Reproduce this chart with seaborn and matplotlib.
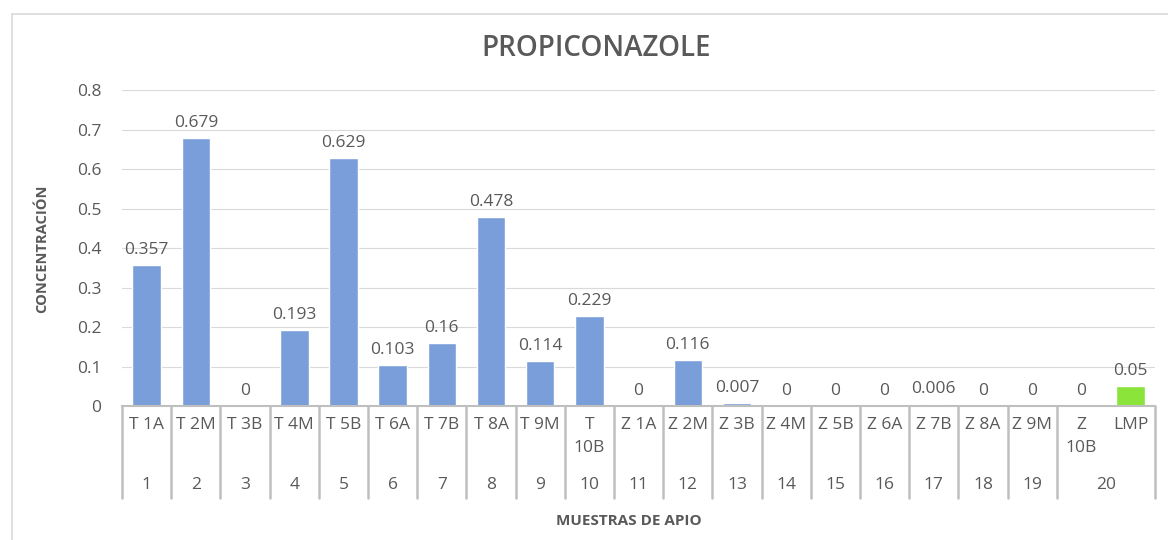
import matplotlib
matplotlib.use("Agg")
import matplotlib.pyplot as plt
import matplotlib.transforms as mtransforms
from matplotlib.lines import Line2D
import seaborn as sns
import pandas as pd

# --- data ---
muestras = ["T 1A", "T 2M", "T 3B", "T 4M", "T 5B", "T 6A", "T 7B", "T 8A", "T 9M", "T\n10B",
            "Z 1A", "Z 2M", "Z 3B", "Z 4M", "Z 5B", "Z 6A", "Z 7B", "Z 8A", "Z 9M", "Z\n10B", "LMP"]
concentracion = [0.357, 0.679, 0, 0.193, 0.629, 0.103, 0.16, 0.478, 0.114, 0.229,
                 0, 0.116, 0.007, 0, 0, 0, 0.006, 0, 0, 0, 0.05]
etiquetas = ["0.357", "0.679", "0", "0.193", "0.629", "0.103", "0.16", "0.478", "0.114", "0.229",
             "0", "0.116", "0.007", "0", "0", "0", "0.006", "0", "0", "0", "0.05"]
grupos = [str(i) for i in range(1, 21)]
# group 20 covers the last two categories (Z 10B and LMP)
grupo_span = [(i, i + 1) for i in range(19)] + [(19, 21)]

df = pd.DataFrame({"muestra": muestras, "conc": concentracion})
df["tipo"] = ["lmp" if m == "LMP" else "muestra" for m in muestras]

sns.set_style("white")
plt.rcParams["font.family"] = ["Open Sans", "DejaVu Sans"]
txt = "#595959"
grid = "#D9D9D9"
axis_c = "#BFBFBF"
fs = 12.5

fig = plt.figure(figsize=(11.68, 5.4), dpi=100)
ax = fig.add_axes([0.1045, 0.248, 0.8845, 0.585])

sns.barplot(data=df, x="muestra", y="conc", hue="tipo", palette={"muestra": "#7A9ED9", "lmp": "#8AE43A"},
            width=0.58, legend=False, dodge=False, saturation=1, ax=ax)

ax.set_ylim(0, 0.8)
ax.set_xlim(-0.5, len(muestras) - 0.5)
ax.set_yticks([i / 10 for i in range(9)])
ax.set_yticklabels(["0"] + [f"{i / 10:.1f}" for i in range(1, 9)])
ax.tick_params(axis="y", length=0, pad=15, labelsize=fs, labelcolor=txt)
ax.set_xticks([])
ax.set_xlabel("")
ax.set_ylabel("")
for s in ["top", "right", "left"]:
    ax.spines[s].set_visible(False)
ax.spines["bottom"].set_color(axis_c)
ax.spines["bottom"].set_linewidth(1.5)
ax.yaxis.grid(True, color=grid, linewidth=0.8)
ax.set_axisbelow(True)

# data labels
for i, (v, lab) in enumerate(zip(concentracion, etiquetas)):
    ax.annotate(lab, (i, v), xytext=(0, 5), textcoords="offset points",
                ha="center", va="bottom", fontsize=fs, color=txt)

# multi-level category axis
trans = mtransforms.blended_transform_factory(ax.transData, ax.transAxes)
y_bot = -0.29
for i, m in enumerate(muestras):
    ax.text(i, -0.035, m, transform=trans, ha="center", va="top", fontsize=fs,
            color=txt, linespacing=1.55)
for (a, b), g in zip(grupo_span, grupos):
    ax.text((a + b) / 2 - 0.5, -0.25, g, transform=trans, ha="center", va="center",
            fontsize=fs, color=txt)
bordes = [a for a, b in grupo_span] + [len(muestras)]
for b in bordes:
    ax.add_line(Line2D([b - 0.5, b - 0.5], [0, y_bot], transform=trans, color=axis_c,
                       linewidth=1.8, clip_on=False))

fig.text(0.51, 0.911, "PROPICONAZOLE", ha="center", va="center", fontsize=20, color=txt,
         fontweight="semibold")
fig.text(0.538, 0.036, "MUESTRAS DE APIO", ha="center", va="center", fontsize=11,
         color=txt, fontweight="bold")
fig.text(0.036, 0.54, "CONCENTRACIÓN", ha="center", va="center", fontsize=10.5,
         color=txt, fontweight="bold", rotation=90)

# outer chart border
fig.add_artist(Line2D([12 / 1168, 12 / 1168], [0, 1 - 14 / 540], transform=fig.transFigure,
                      color="#D9D9D9", linewidth=1.2))
fig.add_artist(Line2D([12 / 1168, 1], [1 - 14 / 540, 1 - 14 / 540], transform=fig.transFigure,
                      color="#D9D9D9", linewidth=1.2))

fig.savefig("out.png", dpi=100, facecolor="white")
